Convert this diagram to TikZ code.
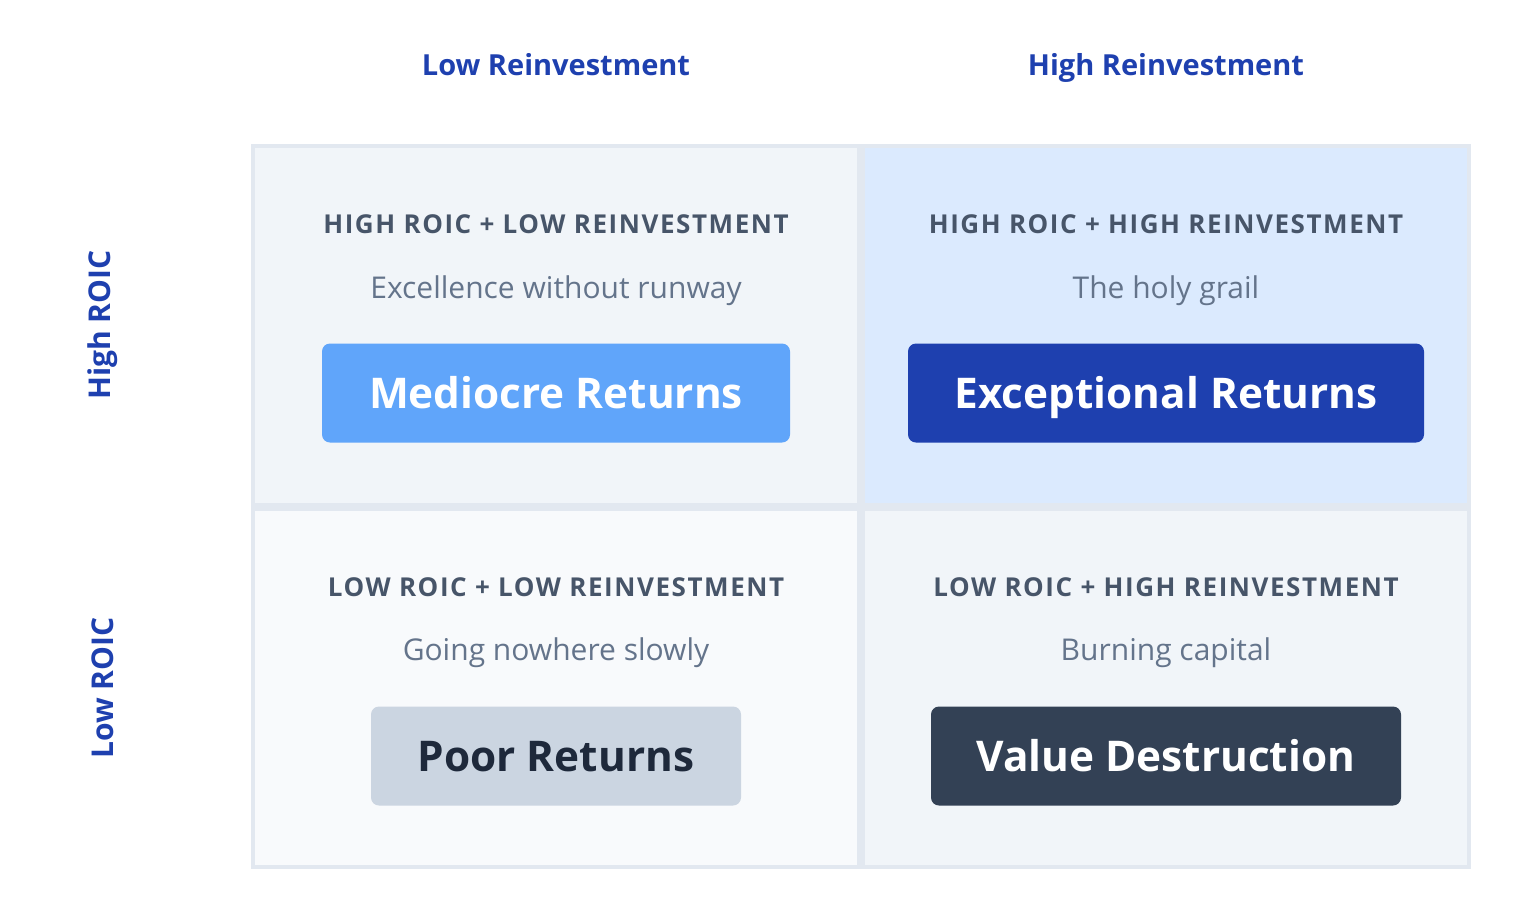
\documentclass[tikz,border=0pt]{standalone}
\usepackage{fontspec}
\setmainfont{Open Sans}
\newfontfamily\capsfont[LetterSpace=6]{Open Sans}
\definecolor{hblue}{HTML}{1E40AF}
\definecolor{cborder}{HTML}{E2E8F0}
\definecolor{ctl}{HTML}{F1F5F9}
\definecolor{ctr}{HTML}{DBEAFE}
\definecolor{cbl}{HTML}{F8FAFC}
\definecolor{cbr}{HTML}{F1F5F9}
\definecolor{capcol}{HTML}{475569}
\definecolor{subcol}{HTML}{64748B}
\definecolor{bmed}{HTML}{60A5FA}
\definecolor{bexc}{HTML}{1E40AF}
\definecolor{bpoor}{HTML}{CBD5E1}
\definecolor{tpoor}{HTML}{1E293B}
\definecolor{bval}{HTML}{334155}
\begin{document}
\begin{tikzpicture}[x=1pt,y=-1pt,
  header/.style={anchor=base, text=hblue, font=\fontsize{29}{32}\selectfont\bfseries, inner sep=0pt},
  side/.style={anchor=center, rotate=90, text=hblue, font=\fontsize{30}{34}\selectfont\bfseries, inner sep=0pt},
  cell/.style={draw=cborder, line width=4pt, minimum width=606pt, inner sep=0pt},
  caplabel/.style={anchor=base, text=capcol, font=\fontsize{26}{30}\selectfont\capsfont\bfseries, inner sep=0pt},
  sublabel/.style={anchor=base, text=subcol, font=\fontsize{30}{34}\selectfont, inner sep=0pt},
  btn/.style={rounded corners=8pt, minimum height=99pt, inner sep=0pt, text height=30pt, text depth=0pt, font=\fontsize{42.3}{48}\selectfont\bfseries}
]
\useasboundingbox (0,0) rectangle (1526,906);
% headers
\node[header] (h1) at (556,75) {Low Reinvestment};
\node[header] (h2) at (1166,75) {High Reinvestment};
\node[side] (s1) at (103,325) {High ROIC};
\node[side] (s2) at (103,688) {Low ROIC};
% cells
\node[cell, fill=ctl, minimum height=359pt] (tl) at (556,325.5) {};
\node[cell, fill=ctr, minimum height=359pt] (tr) at (1166,325.5) {};
\node[cell, fill=cbl, minimum height=358pt] (bl) at (556,688) {};
\node[cell, fill=cbr, minimum height=358pt] (br) at (1166,688) {};
% top-left
\node[caplabel] (tlc) at (556,233) {HIGH ROIC + LOW REINVESTMENT};
\node[sublabel] (tls) at (556,298) {Excellence without runway};
\node[btn, fill=bmed, text=white, minimum width=468pt] (tlb) at (556,393) {Mediocre Returns};
% top-right
\node[caplabel] (trc) at (1166,233) {HIGH ROIC + HIGH REINVESTMENT};
\node[sublabel] (trs) at (1166,298) {The holy grail};
\node[btn, fill=bexc, text=white, minimum width=516pt] (trb) at (1166,393) {Exceptional Returns};
% bottom-left
\node[caplabel] (blc) at (556,596) {LOW ROIC + LOW REINVESTMENT};
\node[sublabel] (bls) at (556,660) {Going nowhere slowly};
\node[btn, fill=bpoor, text=tpoor, minimum width=370pt] (blb) at (556,756) {Poor Returns};
% bottom-right
\node[caplabel] (brc) at (1166,596) {LOW ROIC + HIGH REINVESTMENT};
\node[sublabel] (brs) at (1166,660) {Burning capital};
\node[btn, fill=bval, text=white, minimum width=470pt] (brb) at (1166,756) {Value Destruction};
\end{tikzpicture}
\end{document}
